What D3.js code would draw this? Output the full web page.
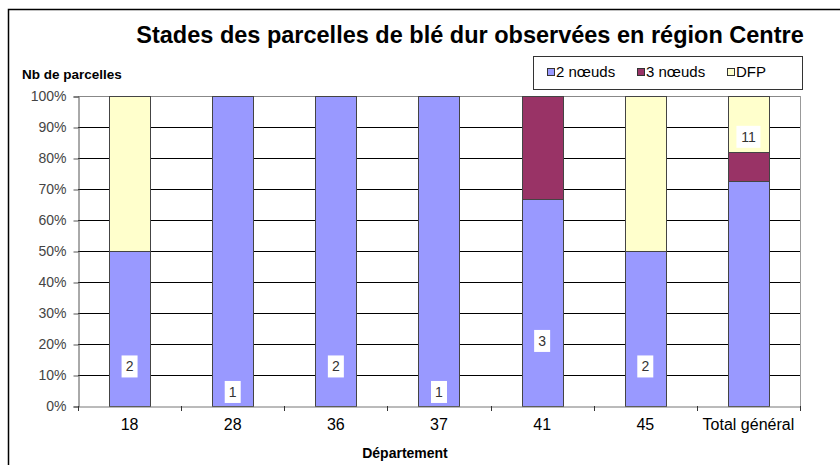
<!DOCTYPE html>
<html lang="fr">
<head>
<meta charset="UTF-8">
<title>Stades des parcelles de blé dur</title>
<style>
    body { margin: 0; background: #fff; }
    svg { font-family: "Liberation Sans", Arial, sans-serif; }
</style>
</head>
<body>
<svg id="chart" width="840" height="465"></svg>
<script src="https://cdnjs.cloudflare.com/ajax/libs/d3/7.8.5/d3.min.js"></script>
<script>
// data (counts of parcels)
var departements = ["18", "28", "36", "37", "41", "45", "Total général"];
var noeuds2 = [1, 1, 2, 1, 2, 1, 8];
var noeuds3 = [0, 0, 0, 0, 1, 0, 1];
var dfp     = [1, 0, 0, 0, 0, 1, 2];
var series  = ["2 nœuds", "3 nœuds", "DFP"];
var colors  = ["#9999ff", "#993366", "#ffffcc"];
var yTicks  = [0, 0.1, 0.2, 0.3, 0.4, 0.5, 0.6, 0.7, 0.8, 0.9, 1];

(function() {
var svg = d3.select("#chart");
var mLeft = 78, mRight = 800, mTop = 96, mBottom = 406;

// outer frame of the chart
svg.append("rect").attr("x", 8.5).attr("y", 9.5).attr("width", 840).attr("height", 470)
    .attr("fill", "none").attr("stroke", "#000").attr("stroke-width", 1.5);

svg.append("text").attr("x", 470).attr("y", 43).attr("text-anchor", "middle")
    .style("font-size", "23.5px").style("font-weight", "bold")
    .text("Stades des parcelles de blé dur observées en région Centre");

svg.append("text").attr("x", 22).attr("y", 79)
    .style("font-size", "13.5px").style("font-weight", "bold").text("Nb de parcelles");

var x = d3.scaleBand().domain(departements).range([mLeft, mRight]).paddingInner(0.6).paddingOuter(0.3);
var y = d3.scaleLinear().domain([0, 1]).range([mBottom, mTop]);
// hidden secondary axis carrying the total labels (like the excel sheet)
var yTot = d3.scaleLinear().domain([0.45, 12.6]).range([mBottom, mTop]);

// gridlines
svg.append("g").selectAll("line").data(yTicks.slice(1)).join("line")
    .attr("x1", mLeft).attr("x2", mRight)
    .attr("y1", function(d) { return Math.round(y(d)) + 0.5; })
    .attr("y2", function(d) { return Math.round(y(d)) + 0.5; })
    .attr("stroke", function(d) { return d === 1 ? "#888" : "#000"; });
svg.append("line").attr("x1", mRight + 0.5).attr("x2", mRight + 0.5).attr("y1", mTop).attr("y2", mBottom)
    .attr("stroke", "#999");

// y axis
var yAxis = svg.append("g").attr("transform", "translate(" + (mLeft + 0.5) + ",0.5)")
    .call(d3.axisLeft(y).tickValues(yTicks).tickFormat(d3.format(".0%")).tickSize(5).tickPadding(7));
yAxis.selectAll("text").style("font-size", "14px").attr("fill", "#444").style("font-family", "Liberation Sans, Arial");
yAxis.selectAll("line, path").attr("stroke", "#555");

// stacked bars
var rows = departements.map(function(d, i) {
    return { dep: d, "2 nœuds": noeuds2[i], "3 nœuds": noeuds3[i], "DFP": dfp[i] };
});
var stack = d3.stack().keys(series).offset(d3.stackOffsetExpand)(rows);
svg.append("g").selectAll("g").data(stack).join("g")
    .attr("fill", function(d, i) { return colors[i]; })
    .selectAll("rect").data(function(d) { return d.filter(function(p) { return p[1] > p[0]; }); }).join("rect")
    .attr("x", function(d) { return Math.round(x(d.data.dep)) + 0.5; })
    .attr("width", Math.round(x.bandwidth()))
    .attr("y", function(d) { return Math.round(y(d[1])) + 0.5; })
    .attr("height", function(d) { return Math.round(y(d[0])) - Math.round(y(d[1])); })
    .attr("stroke", "#444");

// x axis
var xAxis = svg.append("g").attr("transform", "translate(0," + (mBottom + 0.5) + ")")
    .call(d3.axisBottom(x).tickSize(0).tickPadding(12));
xAxis.select(".domain").attr("stroke", "#777");
xAxis.selectAll("text").style("font-size", "16px").attr("fill", "#000").style("font-family", "Liberation Sans, Arial");
svg.append("g").selectAll("line").data(d3.range(departements.length + 1)).join("line")
    .attr("x1", function(i) { return Math.round(mLeft + i * x.step()) + 0.5; })
    .attr("x2", function(i) { return Math.round(mLeft + i * x.step()) + 0.5; })
    .attr("y1", mBottom).attr("y2", mBottom + 5).attr("stroke", "#333");

svg.append("text").attr("x", 405).attr("y", 458).attr("text-anchor", "middle")
    .style("font-size", "14px").style("font-weight", "bold").text("Département");

// total labels
var totals = rows.map(function(r) { return { dep: r.dep, n: r["2 nœuds"] + r["3 nœuds"] + r["DFP"] }; });
var lab = svg.append("g").selectAll("g").data(totals).join("g")
    .attr("transform", function(d) {
        return "translate(" + (x(d.dep) + x.bandwidth() / 2) + "," + yTot(d.n) + ")";
    });
lab.append("rect")
    .attr("x", function(d) { return d.n > 9 ? -12 : -8; })
    .attr("width", function(d) { return d.n > 9 ? 24 : 16; })
    .attr("y", -11).attr("height", 22).attr("fill", "#fff");
lab.append("text").attr("text-anchor", "middle").attr("dy", "0.36em")
    .style("font-size", "14px").attr("fill", "#333").text(function(d) { return d.n; });

// legend
var lg = svg.append("g");
lg.append("rect").attr("x", 533.5).attr("y", 56.5).attr("width", 269).attr("height", 33)
    .attr("fill", "#fff").attr("stroke", "#333");
var legX = [547, 637, 727];
var item = lg.selectAll("g").data(series).join("g")
    .attr("transform", function(d, i) { return "translate(" + legX[i] + ",72)"; });
item.append("rect").attr("x", 0.5).attr("y", -3.5).attr("width", 7).attr("height", 7)
    .attr("fill", function(d, i) { return colors[i]; }).attr("stroke", "#333");
item.append("text").attr("x", 9).attr("dy", "0.36em").style("font-size", "15px").text(function(d) { return d; });
})();
</script>
</body>
</html>
